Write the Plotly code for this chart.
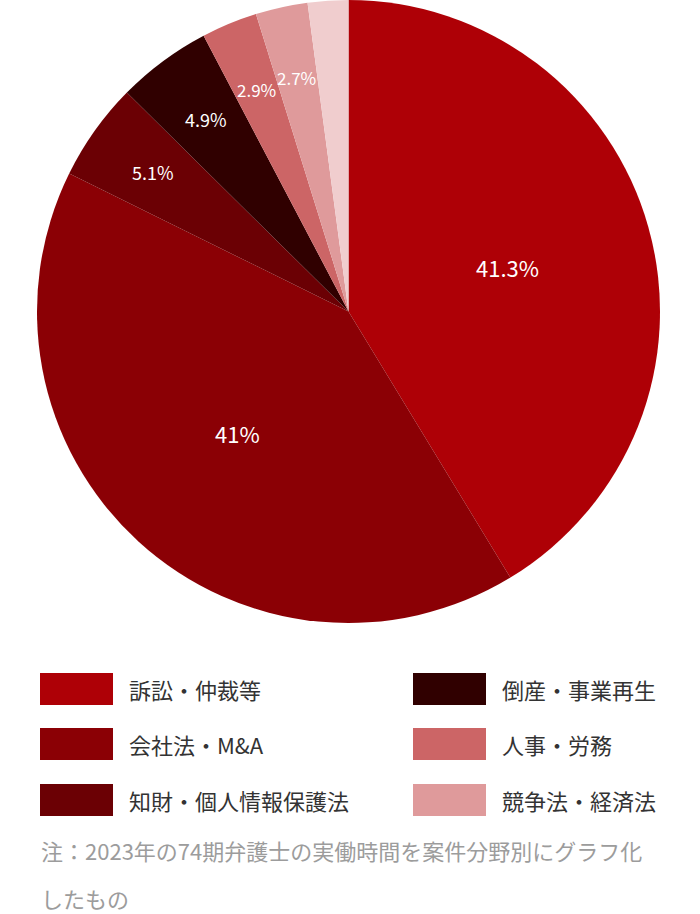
import math
import plotly.graph_objects as go

# 案件分野別の実働時間（%）
labels = ["訴訟・仲裁等", "会社法・M&A", "知財・個人情報保護法", "倒産・事業再生",
          "人事・労務", "競争法・経済法", "その他"]
values = [41.3, 41.0, 5.1, 4.9, 2.9, 2.7, 2.1]
colors = ["#AE0006", "#8B0005", "#6B0004", "#300000", "#CC6566", "#DF9A9B", "#F0CDCE"]
label_sizes = [22, 22, 18, 18, 17, 17, 0]
note_lines = ["注：2023年の74期弁護士の実働時間を案件分野別にグラフ化", "したもの"]

W, H = 700, 914
FONT = "Noto Sans CJK JP"

# 円の位置（ピクセル）
PIE_L, PIE_R, PIE_T, PIE_B = 37, 660, 0, 623
cx, cy = (PIE_L + PIE_R) / 2, (PIE_T + PIE_B) / 2
R = (PIE_B - PIE_T) / 2


def px_x(x):
    return x / W


def px_y(y):
    return 1 - y / H


fig = go.Figure(go.Pie(
    labels=labels,
    values=values,
    sort=False,
    direction="clockwise",
    rotation=0,
    marker=dict(colors=colors, line=dict(width=0)),
    textinfo="none",
    hoverinfo="label+percent",
    domain=dict(x=[px_x(PIE_L), px_x(PIE_R)], y=[px_y(PIE_B), px_y(PIE_T)]),
))

annotations = []

# 各区分の中央角にパーセント表示（最後の区分は表示なし）
total = sum(values)
cum = 0
for v, s in zip(values, label_sizes):
    mid = (cum + v / 2) / total * 2 * math.pi
    cum += v
    if not s:
        continue
    rr = R * (0.53 if v > 10 else 0.77)
    annotations.append(dict(
        x=px_x(cx + rr * math.sin(mid)), y=px_y(cy - rr * math.cos(mid)),
        xref="paper", yref="paper", text=f"{v:g}%", showarrow=False,
        xanchor="center", yanchor="middle",
        font=dict(family=FONT, size=s, color="white")))

# 凡例（2列）
shapes = []
row_y = [689, 744, 800]
cols = [(40, 127), (413, 500)]
for i, name in enumerate(labels[:6]):
    sx, tx = cols[i // 3]
    ry = row_y[i % 3]
    shapes.append(dict(type="rect", xref="paper", yref="paper",
                       x0=px_x(sx), x1=px_x(sx + 73), y0=px_y(ry + 16), y1=px_y(ry - 16),
                       fillcolor=colors[i], line=dict(width=0)))
    annotations.append(dict(x=px_x(tx), y=px_y(ry), xref="paper", yref="paper",
                            text=name, showarrow=False, xanchor="left", yanchor="middle",
                            font=dict(family=FONT, size=22, color="#333333")))

# 注記
for j, line in enumerate(note_lines):
    annotations.append(dict(x=px_x(40), y=px_y(850 + 48 * j), xref="paper", yref="paper",
                            text=line, showarrow=False, xanchor="left", yanchor="middle",
                            borderpad=0,
                            font=dict(family=FONT, size=22, color="#9c9c9c")))

fig.update_layout(
    width=W, height=H,
    margin=dict(l=0, r=0, t=0, b=0),
    paper_bgcolor="white",
    showlegend=False,
    shapes=shapes,
    annotations=annotations,
    font=dict(family=FONT),
)

fig.write_html("out.html", config={"displayModeBar": False},
               post_script="document.body.style.margin='0';")
